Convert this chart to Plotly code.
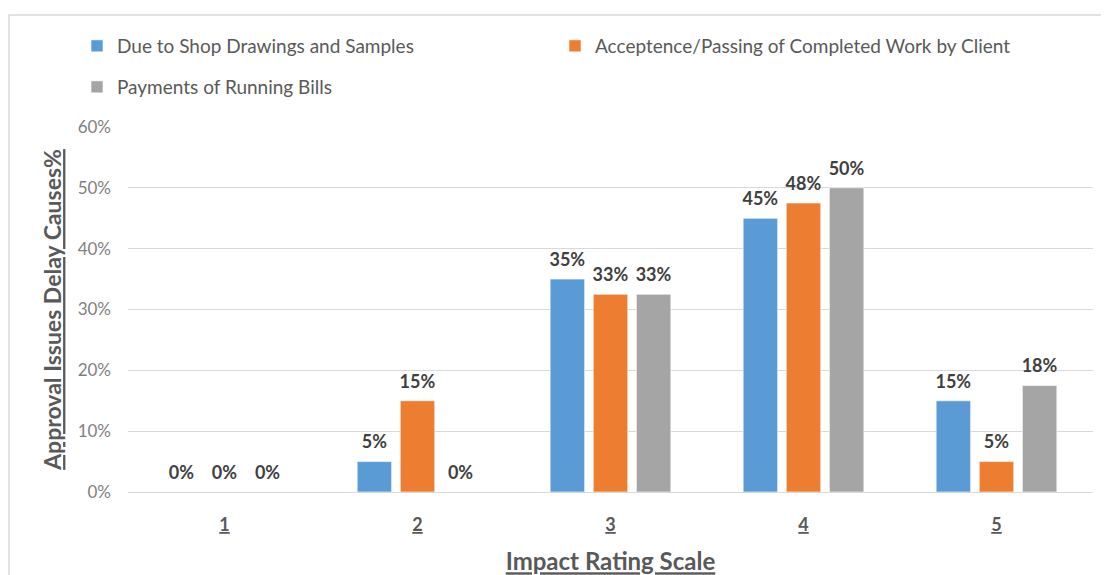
import plotly.graph_objects as go

categories = ["1", "2", "3", "4", "5"]
series_names = [
    "Due to Shop Drawings and Samples",
    "Acceptence/Passing of Completed Work by Client",
    "Payments of Running Bills",
]
shop_drawings = [0.00, 0.05, 0.35, 0.45, 0.15]
acceptance = [0.00, 0.15, 0.325, 0.475, 0.05]
payments = [0.00, 0.00, 0.325, 0.50, 0.175]
y_ticks = [0, 0.1, 0.2, 0.3, 0.4, 0.5, 0.6]
y_tick_labels = ["0%", "10%", "20%", "30%", "40%", "50%", "60%"]

colors = ["#5B9BD5", "#ED7D31", "#A5A5A5"]
FONT = "Lato"


def pct_label(v):
    # the small empty second line only lifts the label a little above its bar
    return f"<span style='font-size:18px'>{int(v * 100 + 0.5 + 1e-9)}%</span><br>\u00a0"


fig = go.Figure()
for name, vals, col, lg in zip(series_names, [shop_drawings, acceptance, payments], colors,
                               ["legend", "legend", "legend2"]):
    fig.add_trace(go.Bar(
        x=categories, y=vals, name=name,
        marker=dict(color=col, line=dict(color="rgba(255,255,255,0.6)", width=1)),
        text=[pct_label(v) for v in vals], textposition="outside",
        textfont=dict(family=FONT, size=7, color="#404040", weight="bold"),
        constraintext="none", cliponaxis=False, legend=lg,
        hovertemplate="%{x}: %{y:.1%}<extra>" + name + "</extra>",
    ))

OFF = 8  # page body margin
W, H = 1109, 575
L = 128 - OFF
T = 127 - OFF
R = OFF + W - 1093.5
B = OFF + H - 492
pw = W - L - R
ph = H - T - B

fig.update_layout(
    width=W, height=H,
    margin=dict(l=L, r=R, t=T, b=B, pad=0),
    paper_bgcolor="white", plot_bgcolor="white",
    barmode="group", bargap=0.33, bargroupgap=0.2,
    font=dict(family=FONT, color="#595959"),
    showlegend=True,
    legend=dict(
        orientation="h", xref="container", yref="container",
        x=(77 - OFF) / W, y=1 - (46 - OFF) / H, xanchor="left", yanchor="middle",
        entrywidth=433, entrywidthmode="pixels",
        font=dict(family=FONT, size=19, color="#595959"),
        bgcolor="rgba(0,0,0,0)", traceorder="normal",
    ),
    legend2=dict(
        orientation="h", xref="container", yref="container",
        x=(77 - OFF) / W, y=1 - (87 - OFF) / H, xanchor="left", yanchor="middle",
        font=dict(family=FONT, size=19, color="#595959"),
        bgcolor="rgba(0,0,0,0)",
    ),
    xaxis=dict(
        type="category", showgrid=False, showline=False, zeroline=False,
        ticks="", ticklabelstandoff=20,
        tickfont=dict(family=FONT, size=18, color="#595959", weight="bold", lineposition="under"),
        title=dict(text="Impact Rating Scale", standoff=19,
                   font=dict(family=FONT, size=24, color="#595959", weight="bold", lineposition="under")),
        automargin=False,
    ),
    yaxis=dict(
        range=[0, 0.6], tickvals=y_ticks, ticktext=y_tick_labels,
        showgrid=True, gridcolor="#D9D9D9", gridwidth=1,
        zeroline=True, zerolinecolor="#D9D9D9", zerolinewidth=1,
        showline=False, ticks="", ticklabelstandoff=16,
        tickfont=dict(family=FONT, size=17, color="#7F7F7F"),
        title=dict(text="Approval Issues Delay Causes%", standoff=9,
                   font=dict(family=FONT, size=23, color="#595959", weight="bold", lineposition="under")),
        automargin=False,
    ),
    shapes=[dict(
        type="rect", xref="paper", yref="paper",
        x0=(9 - OFF - L) / pw, x1=1.2, y0=-0.5, y1=1 + (T - (15 - OFF)) / ph,
        line=dict(color="#D9D9D9", width=1.5), fillcolor="rgba(0,0,0,0)", layer="below",
    )],
)

fig.write_html("out.html")
